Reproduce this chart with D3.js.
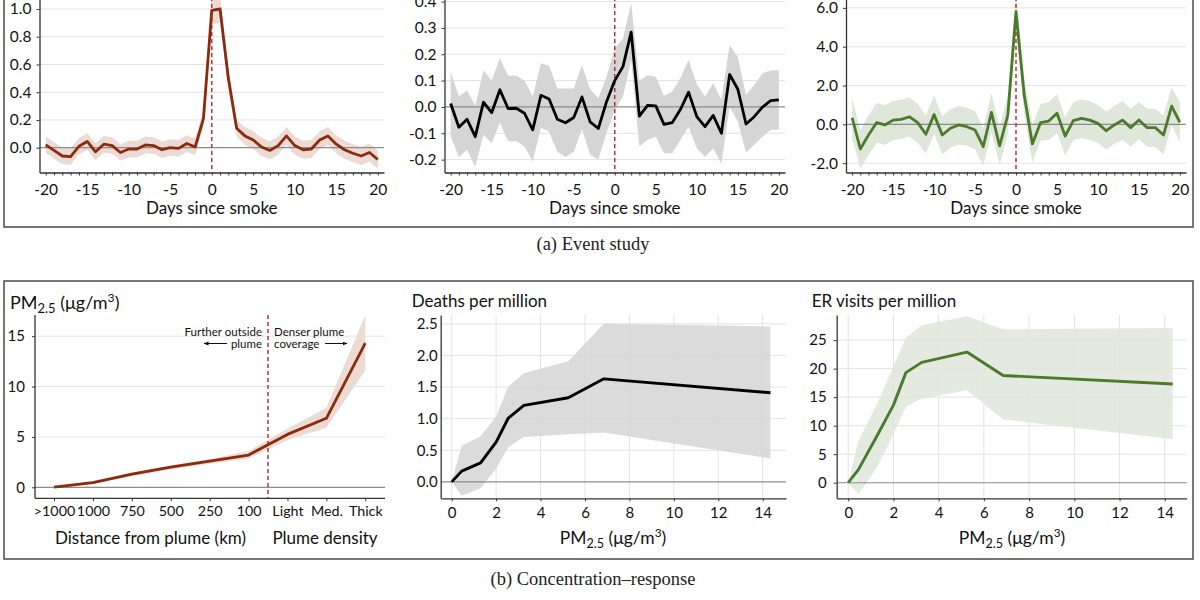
<!DOCTYPE html>
<html><head><meta charset="utf-8">
<script src="https://cdn.jsdelivr.net/npm/d3@7"></script>
<style>
body{margin:0;background:#fff;}
svg{display:block;}
</style></head>
<body><svg id="c" width="1200" height="600"></svg>
<script>
// ---------------- DATA ----------------
const smokeDays = [-20,-19,-18,-17,-16,-15,-14,-13,-12,-11,-10,-9,-8,-7,-6,-5,-4,-3,-2,-1,0,1,2,3,4,5,6,7,8,9,10,11,12,13,14,15,16,17,18,19,20];
const dayTickLabels = [-20,-15,-10,-5,0,5,10,15,20];

// (a) panel 1 : PM2.5 event study
const pmEvent   = [0.02,-0.02,-0.06,-0.065,0.01,0.045,-0.03,0.025,0.015,-0.035,-0.01,-0.01,0.02,0.015,-0.015,0,-0.005,0.03,0.005,0.21,0.99,1.0,0.5,0.14,0.085,0.055,0.005,-0.02,0.015,0.085,0.015,-0.015,-0.01,0.055,0.085,0.025,-0.015,-0.04,-0.06,-0.035,-0.085];
const pmEventHi = [0.08,0.04,0.0,-0.005,0.07,0.105,0.03,0.085,0.075,0.025,0.05,0.05,0.08,0.075,0.045,0.06,0.055,0.09,0.065,0.27,1.09,1.1,0.58,0.2,0.15,0.12,0.07,0.045,0.08,0.15,0.08,0.05,0.055,0.12,0.15,0.09,0.05,0.025,0.005,0.03,-0.02];
const pmEventLo = [-0.04,-0.08,-0.12,-0.125,-0.05,-0.015,-0.09,-0.035,-0.045,-0.095,-0.07,-0.07,-0.04,-0.045,-0.075,-0.06,-0.065,-0.03,-0.055,0.15,0.89,0.9,0.42,0.08,0.02,-0.01,-0.06,-0.085,-0.05,0.02,-0.05,-0.08,-0.075,-0.01,0.02,-0.04,-0.08,-0.105,-0.125,-0.1,-0.15];
const pmEventTicks = [0,0.2,0.4,0.6,0.8,1.0];

// (a) panel 2 : deaths event study
const deathEvent   = [0.013,-0.077,-0.047,-0.113,0.018,-0.022,0.065,-0.006,-0.005,-0.024,-0.087,0.044,0.03,-0.047,-0.06,-0.04,0.038,-0.057,-0.082,0.02,0.10,0.153,0.284,-0.035,0.006,0.004,-0.066,-0.06,-0.01,0.056,-0.037,-0.075,-0.032,-0.1,0.123,0.067,-0.065,-0.037,-0.001,0.024,0.027];
const deathEventHi = [0.134,0.04,0.062,0.004,0.138,0.1,0.185,0.118,0.118,0.1,0.04,0.166,0.156,0.07,0.07,0.07,0.157,0.067,0.033,0.115,0.223,0.26,0.396,0.1,0.12,0.115,0.042,0.058,0.11,0.178,0.086,0.04,0.09,0.027,0.235,0.19,0.045,0.083,0.128,0.138,0.14];
const deathEventLo = [-0.11,-0.19,-0.163,-0.227,-0.106,-0.138,-0.06,-0.13,-0.13,-0.15,-0.207,-0.078,-0.094,-0.17,-0.19,-0.17,-0.085,-0.182,-0.2,-0.1,-0.011,0.04,0.178,-0.15,-0.125,-0.113,-0.176,-0.176,-0.125,-0.075,-0.157,-0.19,-0.157,-0.216,0.0,-0.056,-0.173,-0.144,-0.113,-0.087,-0.087];
const deathEventTicks = [-0.2,-0.1,0,0.1,0.2,0.3,0.4];

// (a) panel 3 : ER visits event study
const erEvent   = [0.34,-1.27,-0.55,0.09,-0.03,0.22,0.26,0.39,0.09,-0.51,0.5,-0.55,-0.2,-0.03,-0.12,-0.29,-1.15,0.62,-1.11,0.48,5.8,1.51,-1.01,0.09,0.17,0.57,-0.6,0.19,0.31,0.22,0.05,-0.33,-0.03,0.22,-0.17,0.22,-0.17,-0.17,-0.55,0.94,0.1];
const erEventHi = [1.35,-0.3,0.45,1.1,0.98,1.2,1.28,1.38,1.05,0.45,1.48,0.42,0.78,0.95,0.85,0.7,-0.2,1.6,-0.15,1.45,6.7,2.45,-0.05,1.05,1.15,1.55,0.35,1.15,1.28,1.2,1.0,0.65,0.95,1.2,0.8,1.15,0.8,0.8,0.45,1.9,1.15];
const erEventLo = [-0.7,-2.3,-1.55,-0.95,-1.05,-0.8,-0.75,-0.62,-0.95,-1.5,-0.5,-1.55,-1.2,-1.05,-1.1,-1.3,-2.15,-0.4,-2.1,-0.5,4.9,0.55,-1.95,-0.85,-0.8,-0.45,-1.6,-0.8,-0.7,-0.8,-0.95,-1.3,-1.0,-0.8,-1.15,-0.75,-1.15,-1.15,-1.55,-0.05,-0.9];
const erEventTicks = [-2,0,2,4,6];

// (b) panel 1 : PM2.5 by distance / plume density
const plumeCats = [">1000","1000","750","500","250","100","Light","Med.","Thick"];
const pmByPlume   = [0.02,0.46,1.3,2.0,2.6,3.2,5.25,6.85,14.3];
const pmByPlumeHi = [0.1,0.6,1.45,2.2,2.8,3.6,5.8,7.9,17.1];
const pmByPlumeLo = [-0.05,0.35,1.1,1.8,2.35,2.85,4.7,5.9,11.6];
const pmByPlumeTicks = [0,5,10,15];

// (b) panels 2 & 3 : concentration-response
const pmBins = [0,0.45,1.3,2.0,2.55,3.25,5.25,6.85,14.35];
const deathsResp   = [0,0.17,0.30,0.63,1.01,1.21,1.33,1.63,1.41];
const deathsRespHi = [0,0.57,0.72,1.03,1.51,1.72,1.91,2.5,2.46];
const deathsRespLo = [0,-0.22,-0.10,0.21,0.55,0.71,0.755,0.78,0.37];
const deathsTicks = [0,0.5,1.0,1.5,2.0,2.5];
const erResp   = [0,2.3,8.4,13.6,19.3,21.1,22.9,18.8,17.3];
const erRespHi = [0,7.3,14.0,20.4,25.4,27.6,29.2,26.9,27.1];
const erRespLo = [0,-2.0,2.9,8.5,13.3,14.7,16.2,11.1,7.6];
const erTicks = [0,5,10,15,20,25];
const pmTicks = [0,2,4,6,8,10,12,14];

// ---------------- STYLE ----------------
const BROWN = "#8b2a0c", BROWN_BAND = "#ecdbd5";
const BLACK = "#000000", GRAY_BAND = "#d5d5d5";
const GREEN = "#4b7a2c", GREEN_BAND = "#dfe6da";
const GRID = "#e3e3e3", ZERO = "#8c8c8c", AXIS = "#333";
const DASH = "#b83236";
const SANS = "Lato, 'Open Sans', sans-serif";
const SERIF = "'Liberation Serif', 'DejaVu Serif', serif";

const svg = d3.select("#c");
svg.append("rect").attr("width",1200).attr("height",600).attr("fill","#fff");

// frames
svg.append("rect").attr("x",4).attr("y",-5).attr("width",1189).attr("height",232)
  .attr("fill","none").attr("stroke","#4a4a4a").attr("stroke-width",1.5);
svg.append("rect").attr("x",4).attr("y",281).attr("width",1189).attr("height",278)
  .attr("fill","none").attr("stroke","#4a4a4a").attr("stroke-width",1.5);

// captions
svg.append("text").attr("x",593).attr("y",250).attr("text-anchor","middle")
  .attr("font-family",SERIF).attr("font-size",18.5).attr("fill","#222").text("(a) Event study");
svg.append("text").attr("x",593).attr("y",585).attr("text-anchor","middle")
  .attr("font-family",SERIF).attr("font-size",18.5).attr("fill","#222").text("(b) Concentration–response");

const defs = svg.append("defs");
defs.append("marker").attr("id","arr").attr("viewBox","0 0 10 10").attr("refX",9).attr("refY",5)
  .attr("markerWidth",5).attr("markerHeight",5).attr("orient","auto-start-reverse")
  .append("path").attr("d","M0,1 L10,5 L0,9 Z").attr("fill","#111");

function styleAxis(g, size){
  g.select(".domain").attr("stroke",AXIS).attr("stroke-width",1.3);
  g.selectAll(".tick line").attr("stroke",AXIS).attr("stroke-width",1);
  g.selectAll(".tick text").attr("font-family",SANS).attr("font-size",size).attr("fill","#111");
}

function pmText(sel, size){
  sel.attr("font-family",SANS).attr("font-size",size).attr("fill","#111");
  sel.append("tspan").text("PM");
  sel.append("tspan").attr("font-size",size*0.72).attr("dy",size*0.22).text("2.5");
  sel.append("tspan").attr("dy",-size*0.22).text(" (μg/m");
  sel.append("tspan").attr("font-size",size*0.68).attr("dy",-size*0.38).text("3");
  sel.append("tspan").attr("dy",size*0.38).text(")");
}

// ---------------- EVENT STUDY PANELS ----------------
function eventPanel(o){
  const g = svg.append("g");
  const x = d3.scaleLinear().domain([-20.75,20.75]).range([o.left,o.right]);
  const y = d3.scaleLinear().domain(o.yDom).range([o.bottom,o.top]);
  g.selectAll(".grid").data(o.ticks.filter(d=>d!==0)).join("line")
    .attr("x1",o.left).attr("x2",o.right).attr("y1",d=>y(d)).attr("y2",d=>y(d))
    .attr("stroke",GRID).attr("stroke-width",1);
  const rows = smokeDays.map((d,i)=>({d, v:o.vals[i], lo:o.lo[i], hi:o.hi[i]}));
  g.append("path").datum(rows)
    .attr("d", d3.area().x(r=>x(r.d)).y0(r=>y(r.lo)).y1(r=>y(r.hi)))
    .attr("fill",o.band);
  g.append("line").attr("x1",o.left).attr("x2",o.right).attr("y1",y(0)).attr("y2",y(0))
    .attr("stroke",ZERO).attr("stroke-width",1.2);
  g.append("line").attr("x1",x(0)).attr("x2",x(0)).attr("y1",o.top).attr("y2",o.bottom)
    .attr("stroke",DASH).attr("stroke-width",1.5).attr("stroke-dasharray","4,3");
  g.append("path").datum(rows)
    .attr("d", d3.line().x(r=>x(r.d)).y(r=>y(r.v)))
    .attr("fill","none").attr("stroke",o.color).attr("stroke-width",2.8).attr("stroke-linejoin","round");
  const ax = g.append("g").attr("transform",`translate(0,${o.bottom})`)
    .call(d3.axisBottom(x).tickValues(smokeDays).tickSize(3).tickSizeOuter(0).tickPadding(8)
      .tickFormat(d=>dayTickLabels.includes(d)? String(d) : ""));
  styleAxis(ax,15.5);
  const ay = g.append("g").attr("transform",`translate(${o.left},0)`)
    .call(d3.axisLeft(y).tickValues(o.ticks).tickSize(3).tickSizeOuter(0).tickPadding(5)
      .tickFormat(d=>d.toFixed(1)));
  styleAxis(ay,15.5);
  g.append("text").attr("x",(o.left+o.right)/2).attr("y",214).attr("text-anchor","middle")
    .attr("font-family",SANS).attr("font-size",17).attr("fill","#111").text("Days since smoke");
}

eventPanel({left:39.5,right:384,top:-10,bottom:172.5,yDom:[-0.179,1.137],
  vals:pmEvent,lo:pmEventLo,hi:pmEventHi,ticks:pmEventTicks,color:BROWN,band:BROWN_BAND});
eventPanel({left:444.5,right:785,top:-10,bottom:172.5,yDom:[-0.249,0.444],
  vals:deathEvent,lo:deathEventLo,hi:deathEventHi,ticks:deathEventTicks,color:BLACK,band:GRAY_BAND});
eventPanel({left:846,right:1186,top:-10,bottom:172.5,yDom:[-2.48,6.92],
  vals:erEvent,lo:erEventLo,hi:erEventHi,ticks:erEventTicks,color:GREEN,band:GREEN_BAND});

// ---------------- (b) PANEL 1 : PM2.5 by plume ----------------
(function(){
  const L=35,R=385,T=315,B=498.3;
  const g = svg.append("g");
  const x = d3.scalePoint().domain(plumeCats).range([54,365.3]);
  const y = d3.scaleLinear().domain([-1.09,17.1]).range([B,T]);
  g.selectAll(".grid").data(pmByPlumeTicks.filter(d=>d!==0)).join("line")
    .attr("x1",L).attr("x2",R).attr("y1",d=>y(d)).attr("y2",d=>y(d))
    .attr("stroke",GRID).attr("stroke-width",1);
  const rows = plumeCats.map((c,i)=>({c,v:pmByPlume[i],lo:pmByPlumeLo[i],hi:pmByPlumeHi[i]}));
  g.append("path").datum(rows).attr("d",d3.area().x(r=>x(r.c)).y0(r=>y(r.lo)).y1(r=>y(r.hi)))
    .attr("fill",BROWN_BAND);
  g.append("line").attr("x1",L).attr("x2",R).attr("y1",y(0)).attr("y2",y(0))
    .attr("stroke",ZERO).attr("stroke-width",1.2);
  const xd = (x("100")+x("Light"))/2;
  g.append("line").attr("x1",xd).attr("x2",xd).attr("y1",T).attr("y2",B)
    .attr("stroke",DASH).attr("stroke-width",1.5).attr("stroke-dasharray","4,3");
  g.append("path").datum(rows).attr("d",d3.line().x(r=>x(r.c)).y(r=>y(r.v)))
    .attr("fill","none").attr("stroke",BROWN).attr("stroke-width",2.8).attr("stroke-linejoin","round");
  // axes
  g.append("line").attr("x1",L).attr("x2",R).attr("y1",B).attr("y2",B).attr("stroke",AXIS).attr("stroke-width",1.3);
  g.append("line").attr("x1",L).attr("x2",L).attr("y1",T).attr("y2",B).attr("stroke",AXIS).attr("stroke-width",1.3);
  const ax = g.append("g").attr("transform",`translate(0,${B})`)
    .call(d3.axisBottom(x).tickSize(3).tickSizeOuter(0).tickPadding(5));
  ax.select(".domain").remove();
  styleAxis(ax,14.3);
  const ay = g.append("g").attr("transform",`translate(${L},0)`)
    .call(d3.axisLeft(y).tickValues(pmByPlumeTicks).tickSize(3).tickSizeOuter(0).tickPadding(7));
  ay.select(".domain").remove();
  styleAxis(ay,15);
  pmText(g.append("text").attr("x",10).attr("y",309),18);
  g.append("text").attr("x",150.5).attr("y",544).attr("text-anchor","middle")
    .attr("font-family",SANS).attr("font-size",17).attr("fill","#111").text("Distance from plume (km)");
  g.append("text").attr("x",325).attr("y",544).attr("text-anchor","middle")
    .attr("font-family",SANS).attr("font-size",17).attr("fill","#111").text("Plume density");
  // annotations
  const ann = (tx,ty,anchor,t)=>g.append("text").attr("x",tx).attr("y",ty).attr("text-anchor",anchor)
    .attr("font-family",SANS).attr("font-size",11.5).attr("fill","#111").text(t);
  ann(xd-6,335.5,"end","Further outside");
  ann(xd-6,347.5,"end","plume");
  ann(xd+6,335.5,"start","Denser plume");
  ann(xd+6,347.5,"start","coverage");
  g.append("line").attr("x1",xd-41).attr("x2",xd-64).attr("y1",343.5).attr("y2",343.5)
    .attr("stroke","#111").attr("stroke-width",1).attr("marker-end","url(#arr)");
  g.append("line").attr("x1",xd+57).attr("x2",xd+79).attr("y1",343.5).attr("y2",343.5)
    .attr("stroke","#111").attr("stroke-width",1).attr("marker-end","url(#arr)");
})();

// ---------------- (b) PANELS 2 & 3 ----------------
function respPanel(o){
  const g = svg.append("g");
  const x = d3.scaleLinear().domain(o.xDom).range([o.left,o.right]);
  const y = d3.scaleLinear().domain(o.yDom).range([o.bottom,o.top]);
  g.selectAll(".vg").data(pmTicks).join("line")
    .attr("x1",d=>x(d)).attr("x2",d=>x(d)).attr("y1",o.top).attr("y2",o.bottom)
    .attr("stroke",GRID).attr("stroke-width",1);
  g.selectAll(".hg").data(o.ticks.filter(d=>d!==0)).join("line")
    .attr("x1",o.left).attr("x2",o.right).attr("y1",d=>y(d)).attr("y2",d=>y(d))
    .attr("stroke",GRID).attr("stroke-width",1);
  const rows = pmBins.map((b,i)=>({b,v:o.vals[i],lo:o.lo[i],hi:o.hi[i]}));
  g.append("path").datum(rows).attr("d",d3.area().x(r=>x(r.b)).y0(r=>y(r.lo)).y1(r=>y(r.hi)))
    .attr("fill",o.band).attr("fill-opacity",0.85);
  g.append("line").attr("x1",o.left).attr("x2",o.right).attr("y1",y(0)).attr("y2",y(0))
    .attr("stroke",ZERO).attr("stroke-width",1.2);
  g.append("path").datum(rows).attr("d",d3.line().x(r=>x(r.b)).y(r=>y(r.v)))
    .attr("fill","none").attr("stroke",o.color).attr("stroke-width",2.9).attr("stroke-linejoin","round");
  const ax = g.append("g").attr("transform",`translate(0,${o.bottom})`)
    .call(d3.axisBottom(x).tickValues(pmTicks).tickSize(3).tickSizeOuter(0).tickPadding(6));
  styleAxis(ax,15);
  const ay = g.append("g").attr("transform",`translate(${o.left},0)`)
    .call(d3.axisLeft(y).tickValues(o.ticks).tickSize(o.tickLen).tickSizeOuter(0).tickPadding(o.pad).tickFormat(o.fmt));
  styleAxis(ay,15);
  g.append("text").attr("x",o.titleX).attr("y",307).attr("font-family",SANS).attr("font-size",17)
    .attr("fill","#111").text(o.title);
  pmText(g.append("text").attr("x",o.labelX).attr("y",544).attr("text-anchor","middle"),17.5);
}

respPanel({left:440.7,right:786,top:315,bottom:498.3,xDom:[-0.495,15.05],yDom:[-0.26,2.64],
  vals:deathsResp,lo:deathsRespLo,hi:deathsRespHi,ticks:deathsTicks,fmt:d=>d.toFixed(1),
  color:BLACK,band:GRAY_BAND,title:"Deaths per million",titleX:411.7,tickLen:0,pad:3,labelX:613});
respPanel({left:836.7,right:1186.7,top:315,bottom:498.3,xDom:[-0.51,14.97],yDom:[-2.73,29.4],
  vals:erResp,lo:erRespLo,hi:erRespHi,ticks:erTicks,fmt:d=>String(d),
  color:GREEN,band:GREEN_BAND,title:"ER visits per million",titleX:811.7,tickLen:3,pad:7,labelX:1012});
</script>
</body></html>
